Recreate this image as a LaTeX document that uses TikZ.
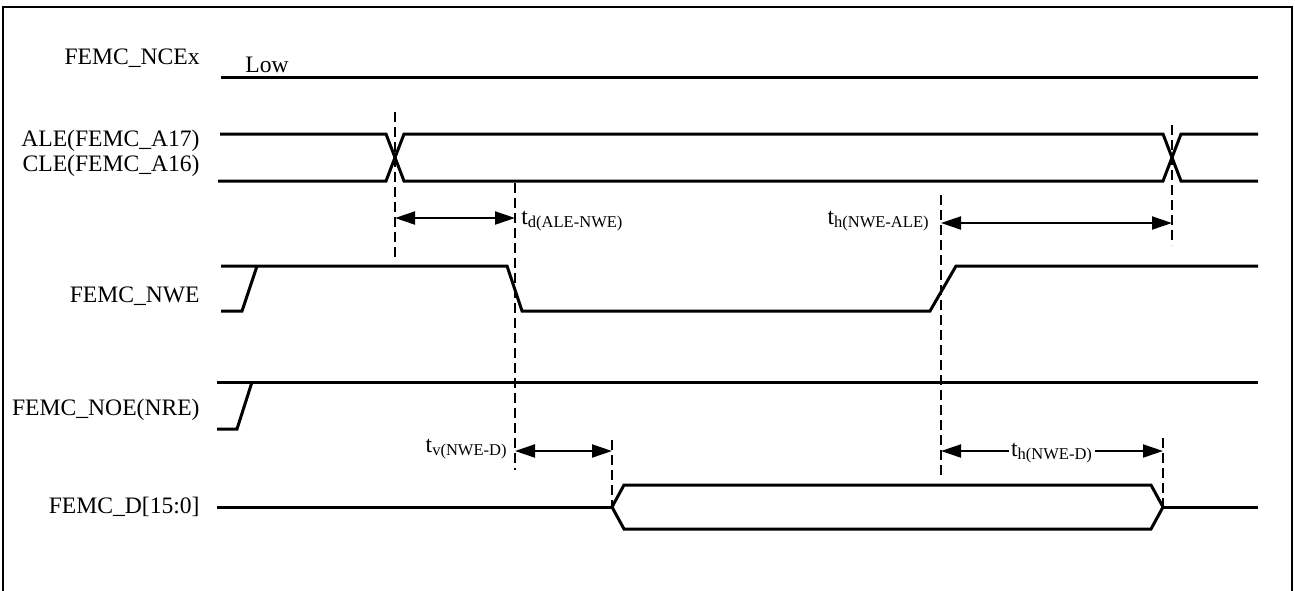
\documentclass[tikz,border=0pt]{standalone}
\usepackage{fontspec}
\setmainfont{Liberation Serif}
\usepackage{tikz}
\usetikzlibrary{arrows.meta,positioning,calc}

\begin{document}
\begin{tikzpicture}[
  x=.5pt,
  y=-.5pt,
  sig/.style={line width=1.5pt,line join=miter},
  guide/.style={line width=.7pt,dash pattern=on 5pt off 2.5pt},
  dim/.style={
    line width=1pt,
    {Triangle[length=10pt,width=6.5pt]}-{Triangle[length=10pt,width=6.5pt]}
  },
  signame/.style={font=\fontsize{11.8}{13.5}\selectfont,anchor=east,inner sep=0pt},
  tlbl/.style={font=\fontsize{11.8}{13.5}\selectfont,inner sep=1pt}
]
\useasboundingbox (0,0) rectangle (1295,590);
\draw[line width=1.2pt] (3,600) -- (3,7) -- (1292,7) -- (1292,600);

% signal names
\node[signame] (nce) at (200,58) {FEMC\_NCEx};
\node[signame] (ale) at (200,141) {ALE(FEMC\_A17)};
\node[signame] (cle) at (200,166) {CLE(FEMC\_A16)};
\node[signame] (nwe) at (200,296) {FEMC\_NWE};
\node[signame] (noe) at (200,410) {FEMC\_NOE(NRE)};
\node[signame] (dat) at (200,507) {FEMC\_D[15:0]};
\node[tlbl,anchor=west] (low) at (243,65) {Low};

% waveforms
\draw[sig] (221,77) -- (1258,77);

\draw[sig] (220,134) -- (386,134) -- (404,181) -- (1163,181)
  -- (1181,134) -- (1258,134);
\draw[sig] (218,181) -- (386,181) -- (404,134) -- (1163,134)
  -- (1181,181) -- (1258,181);

\draw[sig] (221,266) -- (507,266) -- (522,311) -- (930,311)
  -- (956,266) -- (1258,266);
\draw[sig] (221,311) -- (242,311) -- (257,266);

\draw[sig] (217,382) -- (1258,382);
\draw[sig] (217,429) -- (237,429) -- (252,382);

\draw[sig] (217,507) -- (612,507);
\draw[sig] (612,507) -- (624,485) -- (1151,485) -- (1163,507)
  -- (1151,529) -- (624,529) -- cycle;
\draw[sig] (1163,507) -- (1258,507);

% timing marks
\coordinate (m1t) at (395,112);  \coordinate (m1b) at (395,257);
\coordinate (m2t) at (515,183);  \coordinate (m2b) at (515,470);
\coordinate (m3t) at (941,195);  \coordinate (m3b) at (941,475);
\coordinate (m4t) at (1172,125); \coordinate (m4b) at (1172,245);
\coordinate (m5t) at (612,440);  \coordinate (m5b) at (612,507);
\coordinate (m6t) at (1163,438); \coordinate (m6b) at (1163,507);

\foreach \m in {m1,m2,m3,m4,m5,m6}
  \draw[guide] (\m t) -- (\m b);

% intervals
\coordinate (td1) at (395,218);  \coordinate (td2) at (515,218);
\coordinate (ta1) at (941,223);  \coordinate (ta2) at (1172,223);
\coordinate (tv1) at (515,451);  \coordinate (tv2) at (612,451);
\coordinate (tn1) at (941,451);  \coordinate (tn2) at (1163,451);

\draw[dim] (td1) -- (td2);
\node[tlbl,anchor=west] (tdl) at (519,221) {t\textsubscript{d(ALE-NWE)}};

\draw[dim] (ta1) -- (ta2);
\node[tlbl,anchor=east] (tal) at (932,221) {t\textsubscript{h(NWE-ALE)}};

\draw[dim] (tv1) -- (tv2);
\node[tlbl,anchor=east] (tvl) at (510,449) {t\textsubscript{v(NWE-D)}};

\draw[dim] (tn1) -- (tn2)
  node[midway,tlbl,fill=white,yshift=-1pt] (tnl) {t\textsubscript{h(NWE-D)}};
\end{tikzpicture}
\end{document}
